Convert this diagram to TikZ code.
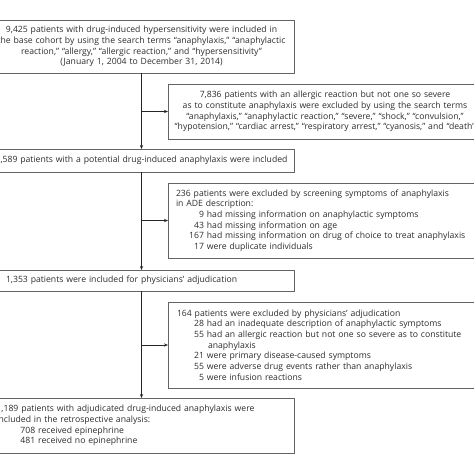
\documentclass[tikz,border=0pt]{standalone}
\usepackage{fontspec}
\setmainfont{Open Sans}
\usetikzlibrary{arrows.meta}
\definecolor{txt}{RGB}{45,45,45}
\definecolor{brd}{RGB}{100,100,100}
\begin{document}
\begin{tikzpicture}[x=1pt,y=-1pt,
  box/.style={draw=brd, line width=0.7pt, text=txt, font=\fontsize{8.65}{10.7}\selectfont, inner ysep=0pt, outer sep=0pt, anchor=north west},
  arr/.style={draw=black!85, line width=0.7pt, -{Stealth[length=4pt,width=3.2pt]}},
]
\useasboundingbox (0,0) rectangle (474,474);
\clip (0,0) rectangle (474,474);
\fill[white] (0,0) rectangle (474,474);
\node[box, minimum height=53pt, inner xsep=1pt, text width=304pt, align=center] (b1) at (-11.5,20)
 {9,425 patients with drug-induced hypersensitivity were included in\\
  the base cohort by using the search terms “anaphylaxis,” “anaphylactic\\
  reaction,” “allergy,” “allergic reaction,” and “hypersensitivity”\\
  (January 1, 2004 to December 31, 2014)};
\node[box, minimum height=55pt, inner xsep=0pt, text width=314pt, align=center] (b2) at (168,84)
 {7,836 patients with an allergic reaction but not one so severe\\
  as to constitute anaphylaxis were excluded by using the search terms\\
  “anaphylaxis,” “anaphylactic reaction,” “severe,” “shock,” “convulsion,”\\
  “hypotension,” “cardiac arrest,” “respiratory arrest,” “cyanosis,” and “death”};
\node[box, minimum height=23pt, inner xsep=1pt, text width=304pt, align=center] (b3) at (-11.5,149)
 {1,589 patients with a potential drug-induced anaphylaxis were included};
\node[box, minimum height=75pt, inner xsep=8pt, text width=298pt, align=left] (b4) at (168,183)
 {236 patients were excluded by screening symptoms of anaphylaxis\\
  in ADE description:\\
  \makebox[28pt][r]{9} had missing information on anaphylactic symptoms\\
  \makebox[28pt][r]{43} had missing information on age\\
  \makebox[28pt][r]{167} had missing information on drug of choice to treat anaphylaxis\\
  \makebox[28pt][r]{17} were duplicate individuals};
\node[box, minimum height=21pt, inner xsep=17.5pt, text width=271pt, align=left] (b5) at (-11.5,270)
 {1,353 patients were included for physicians’ adjudication};
\node[box, minimum height=86pt, inner xsep=9pt, text width=297pt, align=left] (b6) at (168,302)
 {164 patients were excluded by physicians’ adjudication\\
  \makebox[27pt][r]{28} had an inadequate description of anaphylactic symptoms\\
  \makebox[27pt][r]{55} had an allergic reaction but not one so severe as to constitute\\
  \hspace*{31pt}anaphylaxis\\
  \makebox[27pt][r]{21} were primary disease-caused symptoms\\
  \makebox[27pt][r]{55} were adverse drug events rather than anaphylaxis\\
  \makebox[27pt][r]{5} were infusion reactions};
\node[box, minimum height=55pt, inner xsep=8pt, text width=290pt, align=left] (b7) at (-11.5,398)
 {1,189 patients with adjudicated drug-induced anaphylaxis were\\
  included in the retrospective analysis:\\
  \hspace*{24pt}708 received epinephrine\\
  \hspace*{24pt}481 received no epinephrine};
\draw[arr] (b1.south) -- (b3.north);
\draw[arr] (b3.south) -- (b5.north);
\draw[arr] (b5.south) -- (b7.north);
\draw[arr] (b1.south |- b2.west) -- (b2.west);
\draw[arr] (b3.south |- b4.west) -- (b4.west);
\draw[arr] (b5.south |- b6.west) -- (b6.west);
\end{tikzpicture}
\end{document}
